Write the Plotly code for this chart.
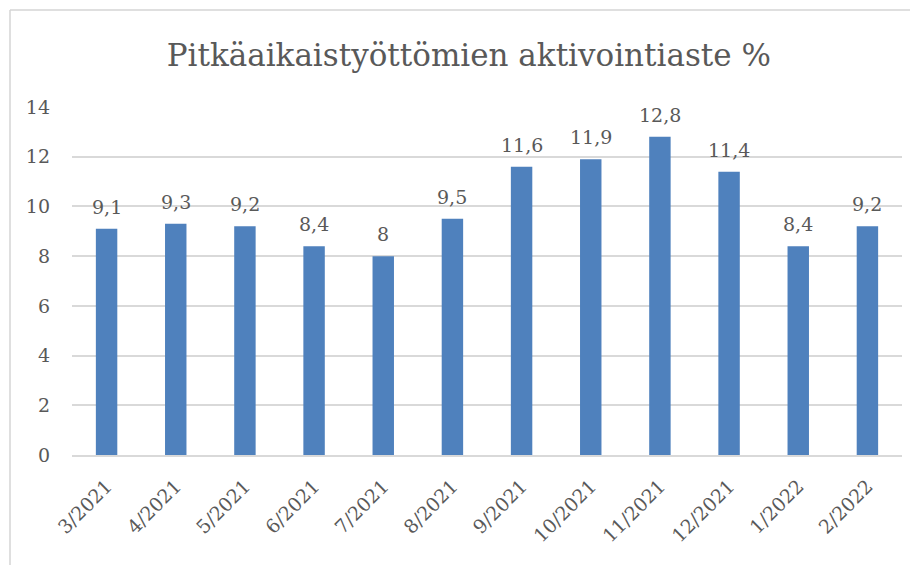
import plotly.graph_objects as go

categories = ["3/2021", "4/2021", "5/2021", "6/2021", "7/2021", "8/2021",
              "9/2021", "10/2021", "11/2021", "12/2021", "1/2022", "2/2022"]
values = [9.1, 9.3, 9.2, 8.4, 8.0, 9.5, 11.6, 11.9, 12.8, 11.4, 8.4, 9.2]
y_ticks = [0, 2, 4, 6, 8, 10, 12, 14]
title_text = "Pitkäaikaistyöttömien aktivointiaste %"

labels = [f"{v:g}".replace(".", ",") for v in values]

FONT = "DejaVu Serif"
TXT = "#595959"
BORDER = "#D4D4D4"

fig = go.Figure(go.Bar(
    x=categories, y=values,
    marker=dict(color="#4F81BD", line=dict(width=0)),
    width=0.31, cliponaxis=False, hoverinfo="x+y",
))

for c, v, t in zip(categories, values, labels):
    fig.add_annotation(x=c, y=v, text=t, showarrow=False, yanchor="bottom",
                       yshift=9, font=dict(family=FONT, size=19, color=TXT))

BX = (10 - 72) / 830
BY = (455 - 10) / 348

fig.update_layout(
    width=918, height=565,
    margin=dict(l=64, r=24, t=99, b=118),
    paper_bgcolor="white", plot_bgcolor="white",
    showlegend=False,
    title=dict(text=title_text, x=0.502, xanchor="center", y=0.917, yanchor="middle",
               font=dict(family=FONT, size=31, color=TXT)),
    xaxis=dict(tickangle=-45, tickfont=dict(family=FONT, size=19, color=TXT),
               showgrid=False, showline=True, linecolor="#D9D9D9", linewidth=1.5,
               ticks="", automargin=False, ticklabelstandoff=11),
    yaxis=dict(range=[0, 14], tickvals=y_ticks, tickfont=dict(family=FONT, size=19, color=TXT),
               showgrid=True, gridcolor="#D9D9D9", gridwidth=1.5, zeroline=False,
               showline=False, ticks="", ticklabelstandoff=21, automargin=False),
    shapes=[
        dict(type="line", xref="paper", yref="paper",
             x0=BX, x1=BX, y0=-0.6, y1=BY,
             line=dict(color=BORDER, width=1.5)),
        dict(type="line", xref="paper", yref="paper",
             x0=BX, x1=1.2, y0=BY, y1=BY,
             line=dict(color=BORDER, width=1.5)),
    ],
)

fig.write_html("out.html")
